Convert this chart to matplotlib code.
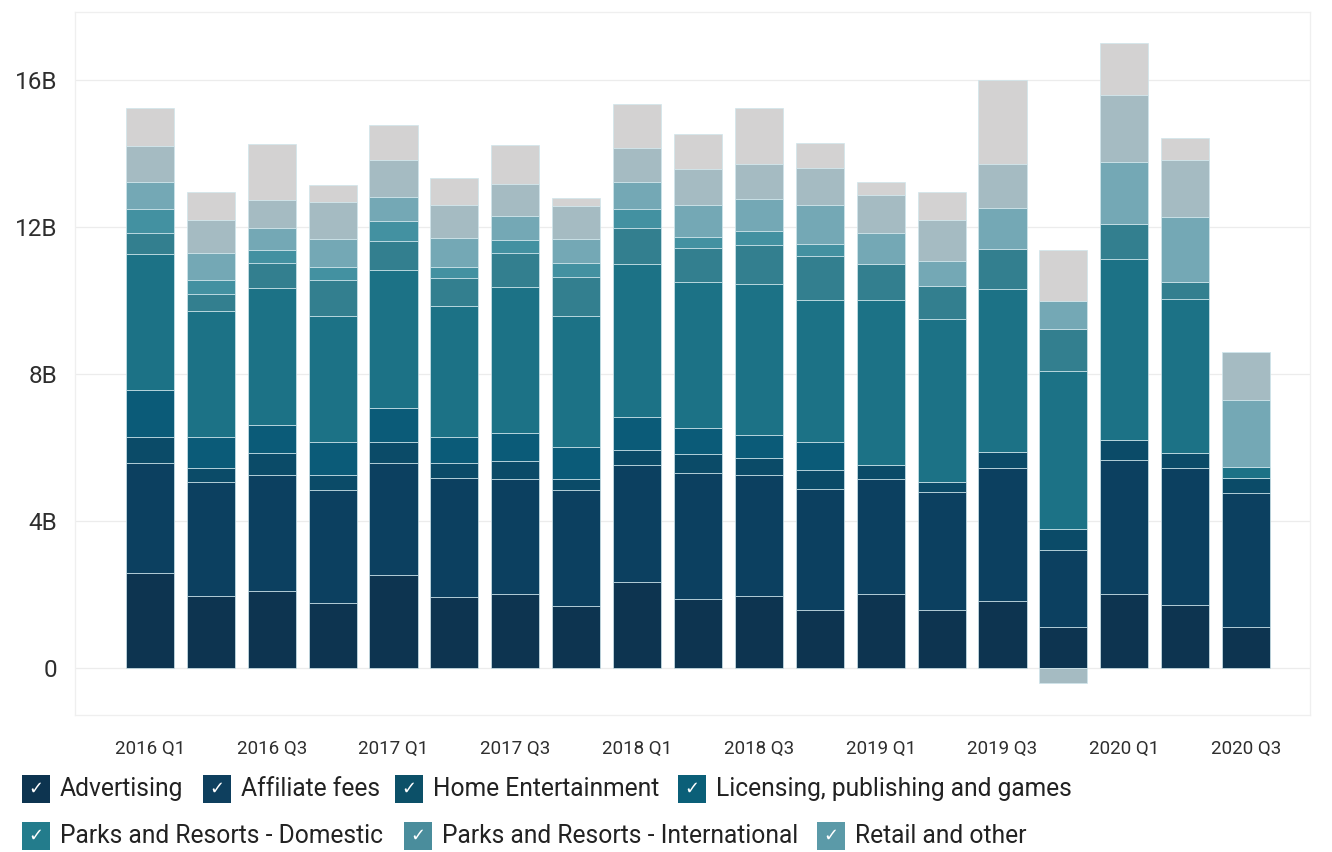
import numpy as np
import matplotlib.pyplot as plt
from matplotlib.patches import Rectangle

plt.rcParams['font.family'] = ['Roboto', 'DejaVu Sans']

quarters = ['2016 Q1', '2016 Q2', '2016 Q3', '2016 Q4',
            '2017 Q1', '2017 Q2', '2017 Q3', '2017 Q4',
            '2018 Q1', '2018 Q2', '2018 Q3', '2018 Q4',
            '2019 Q1', '2019 Q2', '2019 Q3', '2019 Q4',
            '2020 Q1', '2020 Q2', '2020 Q3']

# revenue by source, billions of dollars
advertising = [2.59, 1.95, 2.09, 1.78, 2.54, 1.93, 2.00, 1.68, 2.34, 1.88,
               1.95, 1.57, 2.02, 1.59, 1.81, 1.12, 2.01, 1.70, 1.11]
affiliate_fees = [2.99, 3.10, 3.16, 3.06, 3.04, 3.25, 3.15, 3.16, 3.19, 3.43,
                  3.30, 3.30, 3.11, 3.21, 3.64, 2.08, 3.64, 3.75, 3.64]
home_entertainment = [0.71, 0.38, 0.61, 0.41, 0.56, 0.40, 0.48, 0.31, 0.39, 0.51,
                      0.47, 0.51, 0.40, 0.25, 0.43, 0.57, 0.55, 0.40, 0.43]
licensing = [1.27, 0.86, 0.74, 0.91, 0.94, 0.71, 0.77, 0.86, 0.91, 0.70,
             0.61, 0.76, 0, 0, 0, 0, 0, 0, 0]
parks_domestic = [3.71, 3.43, 3.73, 3.43, 3.75, 3.56, 3.96, 3.58, 4.17, 3.99,
                  4.13, 3.88, 4.47, 4.44, 4.42, 4.30, 4.92, 4.18, 0.30]
parks_international = [0.56, 0.45, 0.69, 0.97, 0.79, 0.76, 0.94, 1.05, 0.96, 0.93,
                       1.06, 1.18, 0.99, 0.91, 1.11, 1.15, 0.95, 0.47, 0]
retail_other = [0.66, 0.39, 0.35, 0.35, 0.53, 0.30, 0.34, 0.38, 0.53, 0.29,
                0.36, 0.34, 0, 0, 0, 0, 0, 0, 0]
subscription_fees = [0.74, 0.74, 0.61, 0.77, 0.67, 0.79, 0.67, 0.66, 0.73, 0.86,
                     0.88, 1.05, 0.84, 0.67, 1.12, 0.77, 1.70, 1.77, 1.81]
tv_svod = [0.96, 0.88, 0.76, 1.01, 0.99, 0.89, 0.86, 0.88, 0.92, 0.98,
           0.95, 1.01, 1.03, 1.12, 1.19, -0.40, 1.83, 1.54, 1.32]
theatrical = [1.04, 0.78, 1.52, 0.46, 0.96, 0.74, 1.07, 0.23, 1.22, 0.95,
              1.52, 0.68, 0.36, 0.77, 2.27, 1.38, 1.42, 0.61, 0]

series_names = ['Advertising', 'Affiliate fees', 'Home Entertainment',
                'Licensing, publishing and games', 'Parks and Resorts - Domestic',
                'Parks and Resorts - International', 'Retail and other',
                'Subscription fees', 'TV/SVOD distribution', 'Theatrical distribution']
series_values = [advertising, affiliate_fees, home_entertainment, licensing,
                 parks_domestic, parks_international, retail_other,
                 subscription_fees, tv_svod, theatrical]
colors = ['#0d3450', '#0c4060', '#0b4b68', '#0b5b78', '#1c7286',
          '#337f8f', '#4391a1', '#74a8b5', '#a5bbc2', '#d3d2d2']
legend_colors = ['#0d3450', '#0e3f5e', '#0c5068', '#0b5f78', '#237c8c',
                 '#4a8d9c', '#5b9aa8']

W, H = 1332, 852
fig = plt.figure(figsize=(W / 100, H / 100), dpi=100)
ax = fig.add_axes([75 / W, (H - 715) / H, 1235 / W, 703 / H])

x = np.arange(len(quarters))
pos_base = np.zeros(len(quarters))
neg_base = np.zeros(len(quarters))
for vals, color in zip(series_values, colors):
    vals = np.array(vals, dtype=float)
    bottom = np.where(vals >= 0, pos_base, neg_base)
    ax.bar(x, vals, bottom=bottom, width=0.79, color=color,
           edgecolor='#cfe6ec', linewidth=0.5, zorder=3)
    pos_base += np.clip(vals, 0, None)
    neg_base += np.clip(vals, None, 0)

ax.set_xlim(-1.23, 19.05)
ax.set_ylim(-1.28, 17.85)
ax.set_yticks([0, 4, 8, 12, 16])
ax.set_yticklabels(['0', '4B', '8B', '12B', '16B'])
ax.set_xticks(x[::2])
ax.set_xticklabels(quarters[::2])
ax.tick_params(axis='y', length=0, pad=13, labelsize=17.5, labelcolor='#2e2e2e')
ax.tick_params(axis='x', length=0, pad=18, labelsize=13.5, labelcolor='#2e2e2e')
ax.grid(axis='y', color='#ececec', linewidth=0.9, zorder=0)
for side in ['top', 'bottom', 'left', 'right']:
    ax.spines[side].set_color('#efefef')
    ax.spines[side].set_linewidth(0.9)

# checkbox-style legend, two rows
rows = [(789, [0, 1, 2, 3], [22, 203, 395, 678]),
        (836, [4, 5, 6], [22, 404, 817])]
box = 28
for yc, idxs, lefts in rows:
    for i, left in zip(idxs, lefts):
        fig.add_artist(Rectangle((left / W, (H - yc - box / 2) / H), box / W, box / H,
                                 transform=fig.transFigure, facecolor=legend_colors[i],
                                 edgecolor='none'))
        fig.text((left + box / 2) / W, (H - yc) / H, '\u2713', color='white',
                 fontsize=13, ha='center', va='center', family='DejaVu Sans')
        fig.text((left + box + 10) / W, (H - yc) / H, series_names[i],
                 fontsize=17.7, color='#222222', ha='left', va='center')

fig.savefig('out.png', dpi=100, facecolor='white')
